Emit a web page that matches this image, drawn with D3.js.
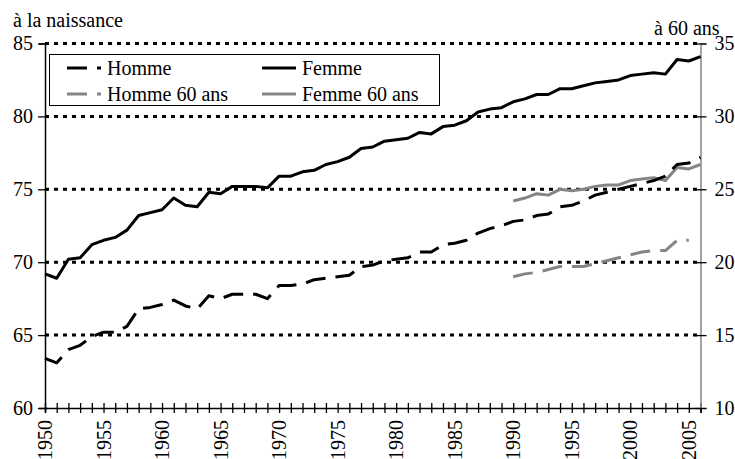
<!DOCTYPE html>
<html lang="fr">
<head>
  <meta charset="UTF-8">
  <title>Espérance de vie</title>
  <script src="https://d3js.org/d3.v7.min.js"></script>
  <style>
    body { margin: 0; background: #fff; }
    .grid line { stroke: #000; stroke-width: 3; stroke-dasharray: 4,5; }
  </style>
</head>
<body>
  <svg width="735" height="459"></svg>

  <script>
    const years = d3.range(1950, 2007);
    const years60 = d3.range(1990, 2007);

    // espérance de vie à la naissance
    const homme = [63.4, 63.1, 64.0, 64.3, 64.9, 65.2, 65.2, 65.6, 66.8, 66.9,
      67.1, 67.4, 67.0, 66.8, 67.7, 67.5, 67.8, 67.8, 67.8, 67.5,
      68.4, 68.4, 68.5, 68.8, 68.9, 69.0, 69.1, 69.7, 69.8, 70.1,
      70.2, 70.3, 70.7, 70.7, 71.2, 71.3, 71.5, 72.0, 72.3, 72.5,
      72.8, 72.9, 73.2, 73.3, 73.8, 73.9, 74.2, 74.6, 74.8, 75.0,
      75.2, 75.4, 75.6, 75.9, 76.7, 76.8, 77.2];
    const femme = [69.2, 68.9, 70.2, 70.3, 71.2, 71.5, 71.7, 72.2, 73.2, 73.4,
      73.6, 74.4, 73.9, 73.8, 74.8, 74.7, 75.2, 75.2, 75.2, 75.1,
      75.9, 75.9, 76.2, 76.3, 76.7, 76.9, 77.2, 77.8, 77.9, 78.3,
      78.4, 78.5, 78.9, 78.8, 79.3, 79.4, 79.7, 80.3, 80.5, 80.6,
      81.0, 81.2, 81.5, 81.5, 81.9, 81.9, 82.1, 82.3, 82.4, 82.5,
      82.8, 82.9, 83.0, 82.9, 83.9, 83.8, 84.1];

    // espérance de vie à 60 ans (1990-2006)
    const homme60 = [19.0, 19.2, 19.3, 19.5, 19.7, 19.7, 19.7, 19.9, 20.1, 20.3,
      20.5, 20.7, 20.8, 20.8, 21.5, 21.5, null];
    const femme60 = [24.2, 24.4, 24.7, 24.6, 25.0, 24.9, 25.0, 25.2, 25.3, 25.3,
      25.6, 25.7, 25.8, 25.6, 26.5, 26.4, 26.7];

    const leftTicks = [60, 65, 70, 75, 80, 85];
    const rightTicks = [10, 15, 20, 25, 30, 35];
    const gridValues = [65, 70, 75, 80, 85];

    const gray = '#858585';
    const serif = "'Liberation Serif', 'Times New Roman', Times, serif";

    const svg = d3.select('svg');

    const x = d3.scaleLinear().domain([1950, 2006]).range([45, 700.5]);
    const yL = d3.scaleLinear().domain([60, 85]).range([408, 43.5]);
    const yR = d3.scaleLinear().domain([10, 35]).range([408, 43.5]);

    // gridlines
    svg.append('g').attr('class', 'grid')
      .selectAll('line')
      .data(gridValues)
      .enter().append('line')
      .attr('x1', x(1950)).attr('x2', x(2006))
      .attr('y1', d => yL(d)).attr('y2', d => yL(d));

    // x axis
    const xAxis = svg.append('g')
      .attr('transform', `translate(0, ${yL(60)})`)
      .call(d3.axisBottom(x).tickValues(years).tickSize(5)
        .tickFormat(d => d % 5 === 0 ? d : ''));
    xAxis.select('.domain').attr('stroke', '#000').attr('stroke-width', 1.5);
    xAxis.selectAll('.tick line').attr('y1', -5).attr('y2', 5).attr('stroke', '#000').attr('stroke-width', 1.3);
    xAxis.selectAll('.tick text')
      .attr('transform', 'rotate(-90)')
      .attr('x', -12).attr('y', 0).attr('dy', '0.33em')
      .style('text-anchor', 'end');

    // left axis
    const yAxisL = svg.append('g')
      .attr('transform', `translate(${x(1950)}, 0)`)
      .call(d3.axisLeft(yL).tickValues(leftTicks).tickSize(6));
    yAxisL.select('.domain').attr('stroke', '#000').attr('stroke-width', 1.5);
    yAxisL.selectAll('.tick line').attr('x2', -7).attr('x1', 3).attr('stroke', '#000').attr('stroke-width', 1.3);
    yAxisL.selectAll('.tick text').attr('x', -12);

    // right axis
    const yAxisR = svg.append('g')
      .attr('transform', `translate(${x(2006)}, 0)`)
      .call(d3.axisRight(yR).tickValues(rightTicks).tickSize(6));
    yAxisR.select('.domain').attr('stroke', gray).attr('stroke-width', 1.5);
    yAxisR.selectAll('.tick line').attr('x1', -5).attr('x2', 6).attr('stroke', '#000').attr('stroke-width', 1.3);
    yAxisR.selectAll('.tick text').attr('x', 14);

    // axis titles
    svg.append('text').attr('x', 13).attr('y', 27).text('à la naissance');
    svg.append('text').attr('x', 654).attr('y', 35).text('à 60 ans');

    // lines
    const lineL = d3.line().defined(d => d.v != null).x(d => x(d.year)).y(d => yL(d.v));
    const lineR = d3.line().defined(d => d.v != null).x(d => x(d.year)).y(d => yR(d.v));

    const series = [
      { name: 'Homme 60 ans', data: years60.map((y, i) => ({ year: y, v: homme60[i] })), line: lineR, color: gray, dash: '20,10' },
      { name: 'Femme 60 ans', data: years60.map((y, i) => ({ year: y, v: femme60[i] })), line: lineR, color: gray, dash: null },
      { name: 'Homme', data: years.map((y, i) => ({ year: y, v: homme[i] })), line: lineL, color: '#000', dash: '20,10' },
      { name: 'Femme', data: years.map((y, i) => ({ year: y, v: femme[i] })), line: lineL, color: '#000', dash: null }
    ];

    svg.selectAll('.serie')
      .data(series)
      .enter().append('path')
      .attr('class', 'serie')
      .attr('fill', 'none')
      .attr('stroke', d => d.color)
      .attr('stroke-width', 3)
      .attr('stroke-linejoin', 'round')
      .attr('stroke-dasharray', d => d.dash)
      .attr('d', d => d.line(d.data));

    // legend
    const legend = svg.append('g');
    legend.append('rect')
      .attr('x', 49.5).attr('y', 54.5).attr('width', 390).attr('height', 51)
      .attr('fill', '#fff').attr('stroke', '#000').attr('stroke-width', 1);

    const legendItems = [
      { name: 'Homme', color: '#000', dash: '20,10', lx: 67, ly: 68 },
      { name: 'Femme', color: '#000', dash: null, lx: 262, ly: 68 },
      { name: 'Homme 60 ans', color: gray, dash: '20,10', lx: 67, ly: 94 },
      { name: 'Femme 60 ans', color: gray, dash: null, lx: 262, ly: 94 }
    ];

    const item = legend.selectAll('.item')
      .data(legendItems)
      .enter().append('g').attr('class', 'item');
    item.append('line')
      .attr('x1', d => d.lx).attr('x2', d => d.lx + 34)
      .attr('y1', d => d.ly).attr('y2', d => d.ly)
      .attr('stroke', d => d.color).attr('stroke-width', 3)
      .attr('stroke-dasharray', d => d.dash);
    item.append('text')
      .attr('x', d => d.lx + 40).attr('y', d => d.ly).attr('dy', '0.35em')
      .text(d => d.name);

    // police serif partout
    svg.selectAll('text')
      .style('font-family', serif)
      .style('font-size', '20px')
      .style('fill', '#000');
  </script>
</body>
</html>
